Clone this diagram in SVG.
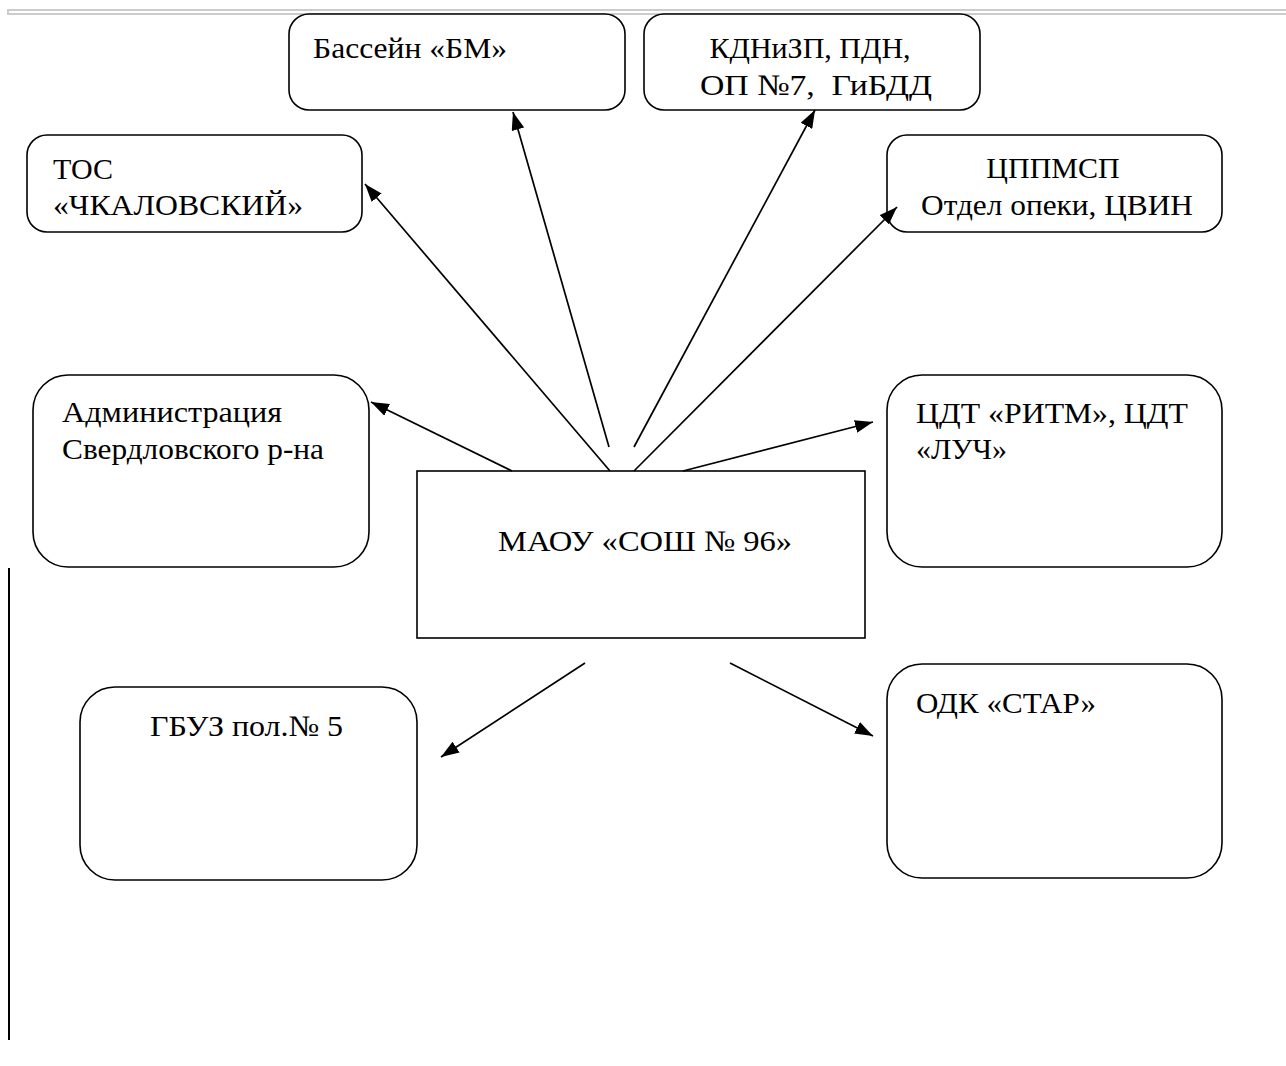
<svg xmlns="http://www.w3.org/2000/svg" width="1286" height="1066" viewBox="0 0 1286 1066">
<defs>
<style>
.box{fill:#fff;stroke:#000;stroke-width:1.6}
.t{font-family:"Liberation Serif","Times New Roman",serif;font-size:30px;fill:#000}
.c{stroke:#000;stroke-width:1.7;fill:none;marker-end:url(#ah)}
</style>
<marker id="ah" viewBox="0 0 18 13" refX="18" refY="6.5" markerWidth="18" markerHeight="13" markerUnits="userSpaceOnUse" orient="auto">
<path d="M0,0 L18,6.5 L0,13 z" fill="#000"/>
</marker>
</defs>
<rect width="1286" height="1066" fill="#fff"/>
<g id="rule">
<rect x="8" y="10" width="1290" height="4" fill="none" stroke="#cccccc" stroke-width="2"/>
<line x1="9" y1="568" x2="9" y2="1040" stroke="#000" stroke-width="2"/>
</g>
<g id="n-bm"><rect class="box" x="289" y="14" width="336" height="96" rx="20"/>
<text class="t" x="313" y="58" textLength="194" lengthAdjust="spacingAndGlyphs">Бассейн «БМ»</text></g>
<g id="n-kdn"><rect class="box" x="644" y="14" width="336" height="96" rx="20"/>
<text class="t" x="810" y="58" text-anchor="middle">КДНиЗП, ПДН,</text>
<text class="t" x="700" y="95" xml:space="preserve" textLength="232" lengthAdjust="spacingAndGlyphs">ОП №7,  ГиБДД</text></g>
<g id="n-tos"><rect class="box" x="27" y="135" width="335" height="97" rx="20"/>
<text class="t" x="53" y="179">ТОС</text>
<text class="t" x="53" y="215" textLength="250" lengthAdjust="spacingAndGlyphs">«ЧКАЛОВСКИЙ»</text></g>
<g id="n-cppmsp"><rect class="box" x="887" y="135" width="335" height="97" rx="20"/>
<text class="t" x="1053" y="178" text-anchor="middle">ЦППМСП</text>
<text class="t" x="921" y="215" textLength="272" lengthAdjust="spacingAndGlyphs">Отдел опеки, ЦВИН</text></g>
<g id="n-adm"><rect class="box" x="33" y="375" width="336" height="192" rx="35"/>
<text class="t" x="62" y="422" textLength="220" lengthAdjust="spacingAndGlyphs">Администрация</text>
<text class="t" x="62" y="459" textLength="262" lengthAdjust="spacingAndGlyphs">Свердловского р-на</text></g>
<g id="n-cdt"><rect class="box" x="887" y="375" width="335" height="192" rx="35"/>
<text class="t" x="916" y="423" textLength="272" lengthAdjust="spacingAndGlyphs">ЦДТ «РИТМ», ЦДТ</text>
<text class="t" x="916" y="459">«ЛУЧ»</text></g>
<g id="n-maou"><rect class="box" x="417" y="471" width="448" height="167"/>
<text class="t" x="498" y="551" textLength="294" lengthAdjust="spacingAndGlyphs">МАОУ «СОШ № 96»</text></g>
<g id="n-gbuz"><rect class="box" x="80" y="687" width="337" height="193" rx="35"/>
<text class="t" x="150" y="736" textLength="193" lengthAdjust="spacingAndGlyphs">ГБУЗ пол.№ 5</text></g>
<g id="n-odk"><rect class="box" x="887" y="664" width="335" height="214" rx="35"/>
<text class="t" x="916" y="713" textLength="180" lengthAdjust="spacingAndGlyphs">ОДК «СТАР»</text></g>
<g id="connectors">
<line class="c" x1="610" y1="471" x2="365" y2="184"/>
<line class="c" x1="609" y1="447" x2="513" y2="112"/>
<line class="c" x1="634" y1="447" x2="815" y2="110"/>
<line class="c" x1="634" y1="471" x2="897" y2="207"/>
<line class="c" x1="512" y1="471" x2="371" y2="402"/>
<line class="c" x1="683" y1="471" x2="873" y2="422"/>
<line class="c" x1="585" y1="663" x2="441" y2="757"/>
<line class="c" x1="730" y1="663" x2="873" y2="736"/>
</g>
</svg>
